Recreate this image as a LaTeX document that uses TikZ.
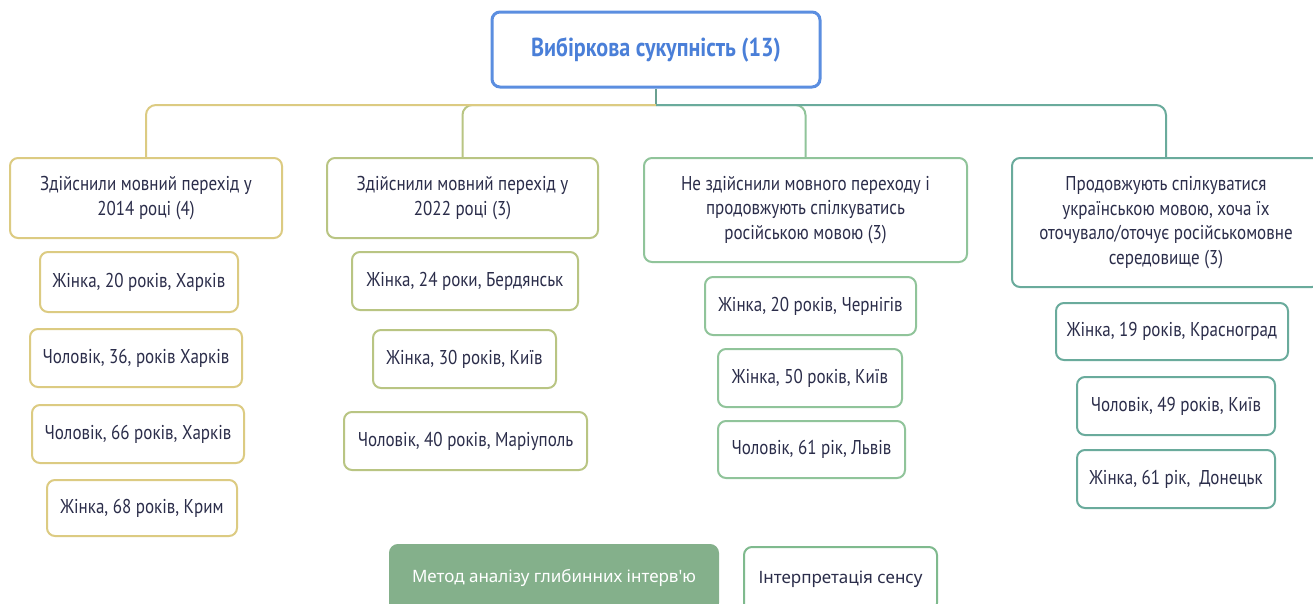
\documentclass[tikz,border=0pt]{standalone}
\usepackage{fontspec}
\setmainfont{PT Sans}[FakeStretch=0.85]
\newfontfamily\btmfont{Noto Sans}
\definecolor{txt}{HTML}{2B2D4A}
\definecolor{rootblue}{HTML}{5B8EE0}
\definecolor{roottxt}{HTML}{4A7FD8}
\definecolor{cyel}{HTML}{DCCB82}
\definecolor{colive}{HTML}{B9C583}
\definecolor{cgreen}{HTML}{90C49A}
\definecolor{cteal}{HTML}{6AAB9C}
\definecolor{gfill}{HTML}{84B08B}
\definecolor{gborder}{HTML}{7FBA8E}
\definecolor{rootline}{HTML}{6AA090}
\tikzset{
  box/.style={draw, line width=2pt, rounded corners=8pt, fill=white, text=txt,
    align=center, inner sep=0pt, font=\fontsize{20}{24.5}\selectfont},
  conn/.style={line width=2pt, rounded corners=10pt},
}
\begin{document}
\begin{tikzpicture}[x=1pt,y=-1pt]
\useasboundingbox (0,0) rectangle (1313,603);
\clip (0,0) rectangle (1313,603);
\fill[white] (0,0) rectangle (1313,603);

\node[box, draw=rootblue, line width=3pt, minimum width=328pt, minimum height=75pt,
  text=roottxt, font=\bfseries\fontsize{26}{28}\selectfont] (root) at (656,49.5) {Вибіркова сукупність (13)};

\node[box, draw=cyel, minimum width=272pt, minimum height=80pt] (c1) at (146,198)
  {Здійснили мовний перехід у\\2014 році (4)};
\node[box, draw=colive, minimum width=271pt, minimum height=80pt] (c2) at (462.5,198)
  {Здійснили мовний перехід у\\2022 році (3)};
\node[box, draw=cgreen, minimum width=323pt, minimum height=104pt] (c3) at (805.5,210)
  {Не здійснили мовного переходу і\\продовжують спілкуватись\\російською мовою (3)};
\node[box, draw=cteal, minimum width=308pt, minimum height=129pt] (c4) at (1166,222.5)
  {Продовжують спілкуватися\\українською мовою, хоча їх\\оточувало/оточує російськомовне\\середовище (3)};

\coordinate (j) at (656,105);
\draw[conn, rootline] (root.south) -- (j);
\draw[conn, colive] (j) -| (c2.north);
\draw[conn, cyel] (j) -| (c1.north);
\draw[conn, cgreen] (j) -| (c3.north);
\draw[conn, cteal] (j) -| (c4.north);

\node[box, draw=cyel, minimum width=198pt, minimum height=60pt] (l1a) at (139,282) {Жінка, 20 років, Харків};
\node[box, draw=cyel, minimum width=212pt, minimum height=58pt] (l1b) at (136,358) {Чоловік, 36, років Харків};
\node[box, draw=cyel, minimum width=212pt, minimum height=58pt] (l1c) at (138,434) {Чоловік, 66 років, Харків};
\node[box, draw=cyel, minimum width=190pt, minimum height=56pt] (l1d) at (142,508) {Жінка, 68 років, Крим};

\node[box, draw=colive, minimum width=226pt, minimum height=58pt] (l2a) at (465,281) {Жінка, 24 роки, Бердянськ};
\node[box, draw=colive, minimum width=183pt, minimum height=58pt] (l2b) at (464.5,359) {Жінка, 30 років, Київ};
\node[box, draw=colive, minimum width=243pt, minimum height=58pt] (l2c) at (465.5,441) {Чоловік, 40 років, Маріуполь};

\node[box, draw=cgreen, minimum width=211pt, minimum height=58pt] (l3a) at (810.5,306) {Жінка, 20 років, Чернігів};
\node[box, draw=cgreen, minimum width=184pt, minimum height=58pt] (l3b) at (810,378) {Жінка, 50 років, Київ};
\node[box, draw=cgreen, minimum width=187pt, minimum height=57pt] (l3c) at (811.5,449.5) {Чоловік, 61 рік, Львів};

\node[box, draw=cteal, minimum width=232pt, minimum height=57pt] (l4a) at (1172,331.5) {Жінка, 19 років, Красноград};
\node[box, draw=cteal, minimum width=198pt, minimum height=58pt] (l4b) at (1176,406) {Чоловік, 49 років, Київ};
\node[box, draw=cteal, minimum width=198pt, minimum height=58pt] (l4c) at (1176,479) {Жінка, 61 рік,\ \ Донецьк};

\node[box, draw=gfill, fill=gfill, text=white, minimum width=328pt, minimum height=66pt,
  font=\btmfont\fontsize{17}{20}\selectfont] (m) at (554,578) {Метод аналізу глибинних інтерв'ю};
\node[box, draw=gborder, minimum width=193pt, minimum height=64pt,
  font=\btmfont\fontsize{17}{20}\selectfont] (i) at (840.5,579) {Інтерпретація сенсу};
\end{tikzpicture}
\end{document}
